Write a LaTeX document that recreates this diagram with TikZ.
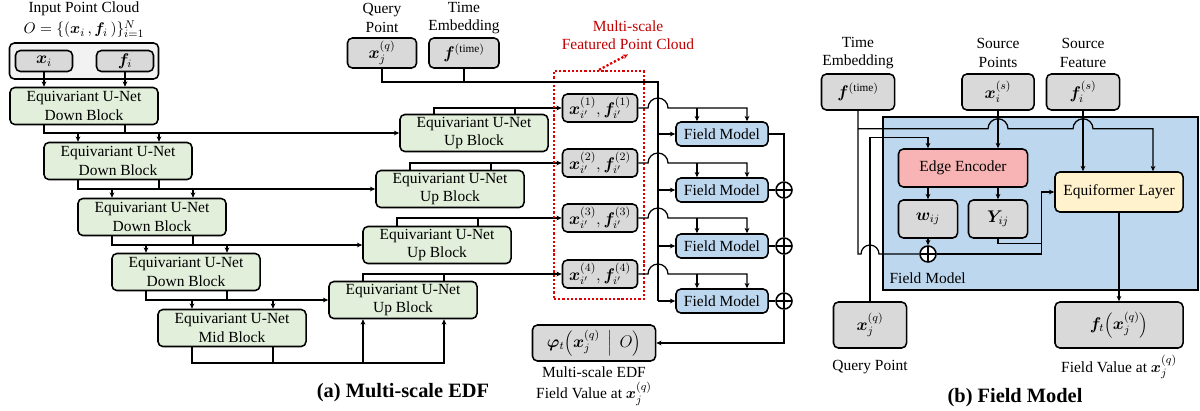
\documentclass[tikz,border=0pt]{standalone}
\usepackage{fontspec}
\setmainfont{Liberation Serif}
\usepackage{bm}
\usetikzlibrary{arrows.meta}

\definecolor{unetgreen}{HTML}{E2EFDA}
\definecolor{ptgray}{HTML}{D9D9D9}
\definecolor{cloudgray}{HTML}{F2F2F2}
\definecolor{fieldblue}{HTML}{BDD7EE}
\definecolor{edgered}{HTML}{F8B4B4}
\definecolor{formeryellow}{HTML}{FFF2CC}
\definecolor{dotred}{HTML}{E00000}
\definecolor{labelred}{HTML}{C00000}

\tikzset{
    blk/.style={draw, line width=1.1pt, rounded corners=3.5pt, align=center, inner sep=0pt, font=\fontsize{11}{13}\selectfont},
    unet/.style={blk, fill=unetgreen, minimum width=3.7cm, minimum height=0.925cm},
    ptbox/.style={blk, fill=ptgray, font=\fontsize{12}{14}\selectfont},
    fieldbox/.style={blk, fill=fieldblue, minimum width=2.3cm, minimum height=0.6cm},
    txt/.style={align=center, inner sep=0pt, font=\fontsize{11}{13}\selectfont},
    captxt/.style={inner sep=0pt, font=\fontsize{14.5}{17}\selectfont\bfseries},
    sumnode/.style={circle, draw, line width=1.1pt, fill=white, minimum size=0.4cm, inner sep=0pt,
        path picture={\draw[line width=1.1pt] (path picture bounding box.north) -- (path picture bounding box.south)
            (path picture bounding box.west) -- (path picture bounding box.east);}}
}

\begin{document}
\begin{tikzpicture}[x=0.025cm, y=0.025cm, line width=0.9pt, >={Stealth[length=3.8pt,width=3.4pt]}]
        \useasboundingbox (0,0) rectangle (1200,-410);

        % (a) multi-scale EDF
        \node[txt, font=\fontsize{11}{15}\selectfont] (inlab) at (84,-20) {Input Point Cloud\\$O=\{(\bm{x}_i\,,\bm{f}_i\,)\}_{i=1}^{N}$};
        \node[blk, fill=cloudgray, minimum width=3.725cm, minimum height=0.9cm] (cloud) at (84,-61) {};
        \node[ptbox, minimum width=1.425cm, minimum height=0.525cm] (xi) at (44,-61) {$\bm{x}_i$};
        \node[ptbox, minimum width=1.425cm, minimum height=0.525cm] (fi) at (125,-61) {$\bm{f}_i$};

        \node[unet] (db1) at (84,-106) {Equivariant U-Net\\Down Block};
        \node[unet] (db2) at (118,-161) {Equivariant U-Net\\Down Block};
        \node[unet] (db3) at (152,-217) {Equivariant U-Net\\Down Block};
        \node[unet] (db4) at (186,-272) {Equivariant U-Net\\Down Block};
        \node[unet] (mid) at (232,-328) {Equivariant U-Net\\Mid Block};
        \node[unet] (ub1) at (474,-133) {Equivariant U-Net\\Up Block};
        \node[unet] (ub2) at (450,-189) {Equivariant U-Net\\Up Block};
        \node[unet] (ub3) at (437,-245) {Equivariant U-Net\\Up Block};
        \node[unet] (ub4) at (403,-300) {Equivariant U-Net\\Up Block};

        \draw[->] (xi.south) -- (xi.south |- db1.north);
        \draw[->] (fi.south) -- (fi.south |- db1.north);
        \foreach \a/\b/\u in {db1/db2/ub1, db2/db3/ub2, db3/db4/ub3, db4/mid/ub4}{
            \draw[->] ([xshift=-1cm]\a.south) |- (\u.west);
            \draw ([xshift=1.025cm]\a.south) -- ([xshift=1.025cm]\a.south |- \u.west);
            \draw[->] ([xshift=-1cm]\b.north |- \u.west) -- ([xshift=-1cm]\b.north);
            \draw[->] ([xshift=1.025cm]\b.north |- \u.west) -- ([xshift=1.025cm]\b.north);
        }
        \coordinate (midbus) at ([yshift=-0.39cm]mid.south);
        \draw[->] ([xshift=-1cm]mid.south) |- ([xshift=1.025cm]ub4.south |- midbus) -- ([xshift=1.025cm]ub4.south);
        \draw ([xshift=1.025cm]mid.south) -- ([xshift=1.025cm]mid.south |- midbus);
        \draw[->] ([xshift=-1cm]ub4.south |- midbus) -- ([xshift=-1cm]ub4.south);

        \node[ptbox, minimum width=1.875cm, minimum height=0.7cm] (f1) at (600,-108) {$\bm{x}^{(1)}_{i'},\bm{f}^{(1)}_{i'}$};
        \node[ptbox, minimum width=1.875cm, minimum height=0.7cm] (f2) at (600,-163) {$\bm{x}^{(2)}_{i'},\bm{f}^{(2)}_{i'}$};
        \node[ptbox, minimum width=1.875cm, minimum height=0.7cm] (f3) at (600,-218) {$\bm{x}^{(3)}_{i'},\bm{f}^{(3)}_{i'}$};
        \node[ptbox, minimum width=1.875cm, minimum height=0.7cm] (f4) at (600,-274) {$\bm{x}^{(4)}_{i'},\bm{f}^{(4)}_{i'}$};
        \foreach \u/\f in {ub1/f1, ub2/f2, ub3/f3, ub4/f4}{
            \draw[->] ([xshift=-1cm]\u.north) |- (\f.west);
            \draw ([xshift=1.025cm]\u.north) -- ([xshift=1.025cm]\u.north |- \f.west);
        }

        \node[draw=dotred, line width=1.6pt, dash pattern=on 1.6pt off 1.4pt, minimum width=2.25cm, minimum height=5.7cm, inner sep=0pt] (msbox) at (599,-185) {};
        \node[txt, text=labelred] (mslab) at (628,-35) {Multi-scale\\Featured Point Cloud};
        \draw[dotred, line width=1.6pt, dash pattern=on 1.6pt off 1.4pt, ->] (msbox.north) -- ([yshift=-3pt]mslab.south);

        \node[ptbox, minimum width=1.725cm, minimum height=0.75cm] (qa) at (382,-53) {$\bm{x}_j^{(q)}$};
        \node[ptbox, minimum width=1.75cm, minimum height=0.75cm] (ta) at (464,-53) {$\bm{f}^{(\mathrm{time})}$};
        \node[txt] (qalab) at (382,-18) {Query\\Point};
        \node[txt] (talab) at (464,-18) {Time\\Embedding};

        \node[fieldbox] (fm1) at (722,-134) {Field Model};
        \node[fieldbox] (fm2) at (722,-190) {Field Model};
        \node[fieldbox] (fm3) at (722,-246) {Field Model};
        \node[fieldbox] (fm4) at (722,-301) {Field Model};

        \coordinate (qbus) at (658,-82);
        \draw (qa.south) |- (qbus) -- (qbus |- fm4.west);
        \draw (ta.south) -- (ta.south |- qbus);
        \foreach \f/\m in {f1/fm1, f2/fm2, f3/fm3, f4/fm4}{
            \draw[->] (\f.east) -- ([xshift=-0.25cm]qbus |- \f.east) arc[start angle=180, end angle=0, radius=0.25cm] -| ([xshift=0.625cm]\m.north);
            \draw[->] ([xshift=-0.625cm]\m.north |- \f.east) -- ([xshift=-0.625cm]\m.north);
            \draw[->] (qbus |- \m.west) -- (\m.west);
        }

        \node[sumnode] (s2) at (784,-190) {};
        \node[sumnode] (s3) at (784,-246) {};
        \node[sumnode] (s4) at (784,-301) {};
        \node[ptbox, minimum width=3.075cm, minimum height=0.9cm] (phi) at (594,-343) {$\bm{\varphi}_t\Bigl(\bm{x}_j^{(q)}\,\Bigm|\,O\Bigr)$};
        \draw (fm1.east) -| (s2.north);
        \draw (s2.south) -- (s3.north);
        \draw (s3.south) -- (s4.north);
        \draw[->] (s4.south) |- (phi.east);
        \foreach \m/\s in {fm2/s2, fm3/s3, fm4/s4}
            \draw (\m.east) -- (\s.west);
        \node[txt, font=\fontsize{11}{15}\selectfont] (philab) at (594,-386) {Multi-scale EDF\\Field Value at $\bm{x}_j^{(q)}$};
        \node[captxt] (capa) at (403,-393) {(a) Multi-scale EDF};

        % (b) field model
        \node[draw, line width=1.8pt, fill=fieldblue, minimum width=7.875cm, minimum height=4.325cm, inner sep=0pt] (fmbig) at (1040.5,-203.5) {};
        \node[txt, anchor=base west] (fmlab) at (889,-283) {Field Model};

        \node[ptbox, minimum width=1.825cm, minimum height=0.9cm] (tb) at (858,-92) {$\bm{f}^{(\mathrm{time})}$};
        \node[ptbox, minimum width=1.8cm, minimum height=0.9cm] (sp) at (998,-92) {$\bm{x}_i^{(s)}$};
        \node[ptbox, minimum width=1.825cm, minimum height=0.9cm] (sf) at (1083,-92) {$\bm{f}_i^{(s)}$};
        \node[txt] (tblab) at (858,-53) {Time\\Embedding};
        \node[txt] (splab) at (998,-53) {Source\\Points};
        \node[txt] (sflab) at (1083,-53) {Source\\Feature};

        \node[blk, fill=edgered, minimum width=3.225cm, minimum height=0.95cm] (ee) at (963,-168) {Edge Encoder};
        \node[blk, fill=formeryellow, minimum width=3.2cm, minimum height=1cm] (eq) at (1119,-192) {Equiformer Layer};
        \node[ptbox, minimum width=1.475cm, minimum height=0.95cm] (wij) at (928,-219) {$\bm{w}_{ij}$};
        \node[ptbox, minimum width=1.475cm, minimum height=0.95cm] (yij) at (998,-219) {$\bm{Y}_{ij}$};
        \node[sumnode] (wsum) at (928,-254) {};

        \node[ptbox, minimum width=1.825cm, minimum height=1.15cm] (qb) at (870,-325) {$\bm{x}_j^{(q)}$};
        \node[ptbox, minimum width=3.2cm, minimum height=1.15cm] (outb) at (1119,-325) {$\bm{f}_t\Bigl(\bm{x}_j^{(q)}\Bigr)$};
        \node[txt] (qblab) at (870,-367) {Query Point};
        \node[txt] (outlab) at (1119,-367) {Field Value at $\bm{x}_j^{(q)}$};
        \node[captxt] (capb) at (1015,-398) {(b) Field Model};

        \coordinate (tbus) at ([yshift=-0.45cm]tb.south);
        \draw[->] (tb.south) -- (tbus) -- ([xshift=-0.25cm]sp.south |- tbus) arc[start angle=180, end angle=0, radius=0.25cm]
            -- ([xshift=-0.25cm]sf.south |- tbus) arc[start angle=180, end angle=0, radius=0.25cm] -| ([xshift=0.85cm]eq.north);
        \draw (tbus) -- (tbus |- wsum) -- ([xshift=-0.225cm]qb.north |- wsum) arc[start angle=180, end angle=0, radius=0.225cm] -- (wsum.west);
        \draw[->] (wsum.east) -- ([xshift=-0.325cm]eq.west |- wsum) |- (eq.west);
        \draw (yij.south) |- ([xshift=-0.325cm, yshift=-0.125cm]eq.west |- yij.south);
        \draw[->] (qb.north) |- ([xshift=-0.875cm, yshift=0.275cm]ee.north) -- ([xshift=-0.875cm]ee.north);
        \draw[->] (sp.south) -- (sp.south |- ee.north);
        \draw[->] (sf.south) -- (sf.south |- eq.north);
        \draw[->] (wij.north |- ee.south) -- (wij.north);
        \draw[->] (yij.north |- ee.south) -- (yij.north);
        \draw[->] (wij.south) -- (wsum.north);
        \draw[->] (eq.south) -- (outb.north);
    \end{tikzpicture}
\end{document}
